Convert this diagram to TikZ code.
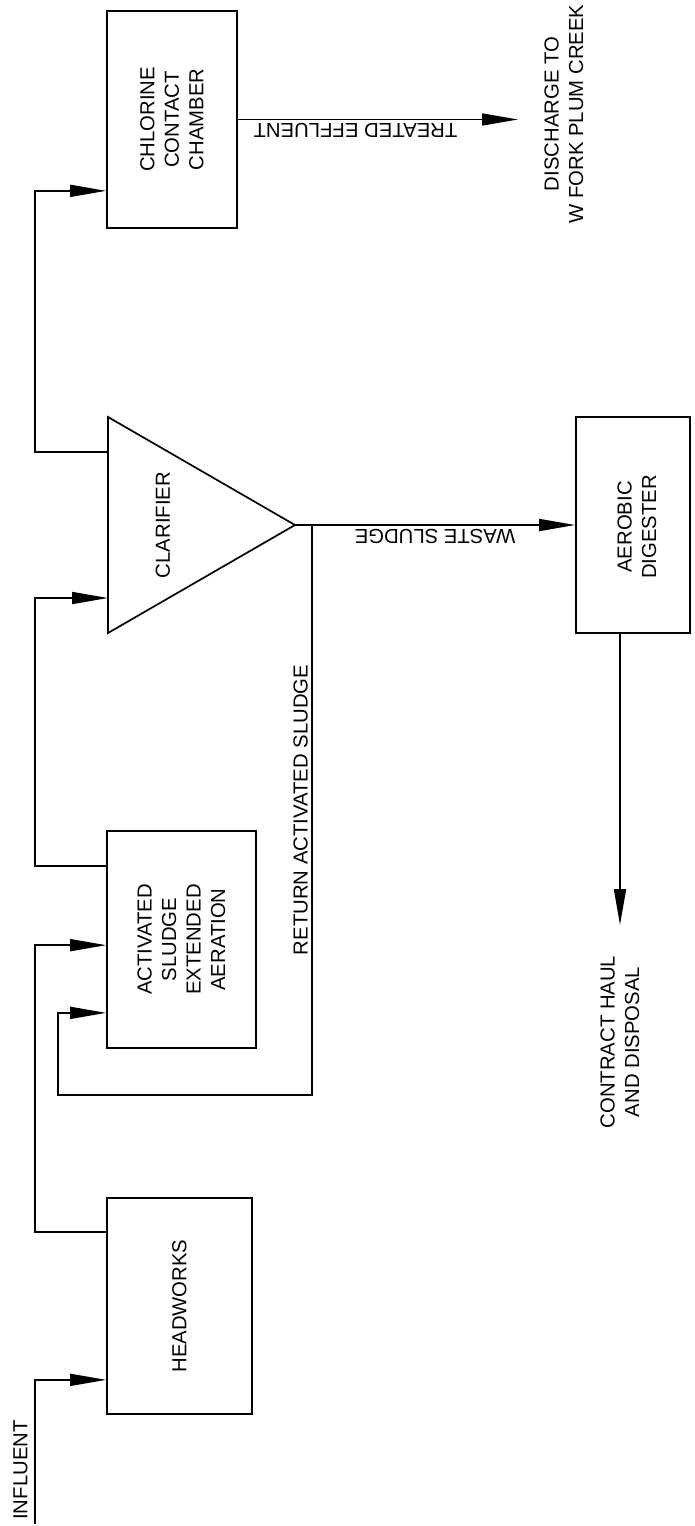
\documentclass[tikz,border=0pt]{standalone}
\usepackage{fontspec}
\setmainfont{Liberation Sans}
\usetikzlibrary{arrows.meta, positioning, calc}
\tikzset{
  procbox/.style={draw, line width=1.7pt, inner sep=0pt},
  boxtext/.style={rotate=90, align=center},
  pipe/.style={line width=1.7pt},
  flow/.style={pipe, -{Triangle[length=36pt, width=12pt]}},
  flowlabel/.style={rotate=180, anchor=south},
}

\begin{document}
\begin{tikzpicture}[x=1pt, y=-1pt, font=\fontsize{20.3}{24.5}\selectfont]
          \useasboundingbox (0,0) rectangle (695,1526);
          % process units
          \node[procbox, minimum width=145pt, minimum height=216pt] (hw)   at (179.5, 1306) {};
          \node[procbox, minimum width=149pt, minimum height=217pt] (asea) at (181.5, 939.5) {};
          \node[procbox, minimum width=130pt, minimum height=217pt] (ccc)  at (172, 119.5) {};
          \node[procbox, minimum width=114pt, minimum height=216pt] (dig)  at (633, 525) {};
          \coordinate (clarT) at (108, 417);
          \coordinate (clarB) at (108, 633);
          \coordinate (clarA) at (295, 525);
          \draw[pipe] (clarT) -- (clarA) -- (clarB) -- cycle;
          % texts
          \node[boxtext] (hwtext)   at (hw) {HEADWORKS};
          \node[boxtext] (aseatext) at (asea) {ACTIVATED\\SLUDGE\\EXTENDED\\AERATION};
          \node[boxtext] (clartext) at (163, 525) {CLARIFIER};
          \node[boxtext] (ccctext)  at (ccc) {CHLORINE\\CONTACT\\CHAMBER};
          \node[boxtext] (digtext)  at (637, 527) {AEROBIC\\DIGESTER};
          \node[boxtext] (inftext)  at (20.5, 1470) {INFLUENT};
          \node[boxtext] (distext)  at (564, 114) {DISCHARGE TO\\W FORK PLUM CREEK};
          \node[boxtext] (haultext) at (620, 1042) {CONTRACT HAUL\\AND DISPOSAL};
          % connection points
          \coordinate (spine)   at (35, 0);
          \coordinate (inf)     at (35, 1524);
          \coordinate (hwin)    at ($(hw.south west)+(0,-35)$);
          \coordinate (hwout)   at ($(hw.north west)+(0,35)$);
          \coordinate (asin)    at ($(asea.north west)+(0,115)$);
          \coordinate (asout)   at ($(asea.north west)+(0,36)$);
          \coordinate (rasin)   at ($(asea.south west)+(0,-36)$);
          \coordinate (clarin)  at (108, 598);
          \coordinate (clarout) at (108, 452);
          \coordinate (cccin)   at ($(ccc.south west)+(0,-38)$);
          \coordinate (ras)     at ($(clarA)+(17,0)$);
          \coordinate (rasloop) at (58, 1095);
          \coordinate (dis)     at (518, 119.5);
          \coordinate (digout)  at ($(dig.south)+(-13,0)$);
          \coordinate (haul)    at (620, 925);
          % flows
          \draw[flow] (inf) |- (hwin);
          \draw[flow] (hwout) -- (hwout -| spine) |- (asin);
          \draw[flow] (asout) -- (asout -| spine) |- (clarin);
          \draw[flow] (clarout) -- (clarout -| spine) |- (cccin);
          \draw[flow] (ccc.east) -- (dis) node[flowlabel, pos=0.42] (telabel) {TREATED EFFLUENT};
          \draw[flow] (clarA) -- (dig.west) node[flowlabel, midway] (wslabel) {WASTE SLUDGE};
          \draw[flow] (ras) -- (ras |- rasloop) node[midway, rotate=90, anchor=south] (raslabel) {RETURN ACTIVATED SLUDGE} -- (rasloop) |- (rasin);
          \draw[flow] (digout) -- (digout |- haul);
        \end{tikzpicture}
\end{document}
